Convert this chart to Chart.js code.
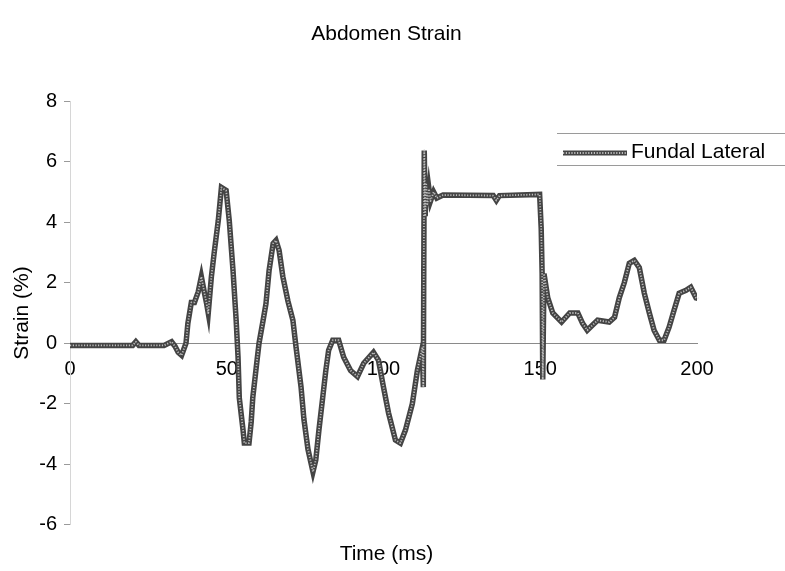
<!DOCTYPE html>
<html>
<head>
<meta charset="utf-8">
<script src="https://cdn.jsdelivr.net/npm/chart.js@4/dist/chart.umd.min.js"></script>
<style>
  html, body { margin: 0; padding: 0; background: #ffffff; }
  #wrap { width: 785px; height: 571px; }
</style>
</head>
<body>
<div id="wrap"><canvas id="c" width="785" height="571"></canvas></div>
<script>
// Abdomen strain trace, fundal lateral gauge
const seriesLabel = 'Fundal Lateral';
const timeMs = [
  0, 10, 20, 21, 22, 30, 32.4, 33.5, 34.5, 35.6, 36.3, 37, 37.6, 38.7, 39.7, 40.9,
  41.9, 42.9, 43.6, 44.1, 45.1, 46, 47.3, 48.3, 49.8, 50.8, 52, 53, 53.6, 54, 55.2,
  55.6, 57.1, 57.8, 58.3, 59.4, 60.3, 61.6, 62.5, 63.5, 64.8, 65.7, 66.7, 67.9,
  69.5, 71.1, 72.1, 73.7, 74.6, 75.9, 77.5, 78.4, 79.4, 80.6, 81.6, 82.5, 83.8,
  85.7, 87.3, 89.5, 91.7, 93.7, 96.8, 98.4, 100, 101.6, 103.8, 105.4, 107, 109.2,
  110.8, 112.4, 112.7, 113.0, 113.3, 113.6, 114, 114.5, 115, 116, 117, 119, 135,
  136, 137, 149.8, 150.3, 150.6, 150.8, 151.2, 152.4, 154, 156.8, 159.4, 162,
  163.5, 165, 166.7, 168.3, 172, 173.7, 175.2, 176.8, 178.4, 180, 181.6, 183.2,
  184.8, 186.3, 188, 189.5, 191.1, 192.7, 194.3, 196.5, 198, 199.7, 200.4
];
const strainPct = [
  -0.07, -0.07, -0.07, 0.05, -0.07, -0.07, 0.05, -0.1, -0.3, -0.4, -0.2, 0, 0.66, 1.35, 1.35, 1.7,
  2.2, 1.65, 1.3, 1.0, 2.2, 3.0, 4.06, 5.15, 5.05, 4.06, 2.4, 0.76, -0.46, -1.8, -2.87,
  -3.3, -3.3, -2.6, -1.8, -0.8, 0, 0.76, 1.3, 2.4, 3.3, 3.4, 3.07, 2.2,
  1.4, 0.76, -0.13, -1.45, -2.5, -3.5, -4.25, -3.86, -2.87, -1.8, -0.9, -0.23, 0.1,
  0.1, -0.46, -0.9, -1.1, -0.66, -0.3, -0.56, -1.45, -2.3, -3.2, -3.3, -2.87, -2.0,
  -0.9, -0.13, -1.45, 6.37, 4.2, 5.3, 4.6, 5.1, 4.7, 5.0, 4.8, 4.9, 4.88,
  4.72, 4.88, 4.92, 3.8, 2.3, -1.2, 2.3, 1.5, 1.0, 0.7, 1.0, 1.0,
  0.66, 0.43, 0.6, 0.76, 0.7, 0.86, 1.5, 2.0, 2.64, 2.74, 2.5, 1.65,
  1.0, 0.43, 0.1, 0.1, 0.53, 1.1, 1.65, 1.75, 1.85, 1.5, 1.48
];
const yTicks = [-6, -4, -2, 0, 2, 4, 6, 8];
const xTicks = [0, 50, 100, 150, 200];

const points = timeMs.map((t, i) => ({ x: t, y: strainPct[i] }));
const FONT = 'Liberation Sans, Arial, sans-serif';

// Lighter core stroked over the thick trace, giving the beaded look
const beadedLine = {
  id: 'beadedLine',
  afterDatasetDraw(chart, args) {
    const pts = args.meta.data;
    if (!pts.length) return;
    const ctx = chart.ctx;
    ctx.save();
    ctx.beginPath();
    ctx.moveTo(pts[0].x, pts[0].y);
    for (let i = 1; i < pts.length; i++) ctx.lineTo(pts[i].x, pts[i].y);
    ctx.strokeStyle = '#bdbdbd';
    ctx.lineWidth = 1.8;
    ctx.setLineDash([1.2, 1.6]);
    ctx.lineJoin = 'round';
    ctx.stroke();
    ctx.restore();
  }
};

// Legend box at upper right with top and bottom rules
const legendBox = {
  id: 'legendBox',
  afterDraw(chart) {
    const ctx = chart.ctx;
    const label = chart.data.datasets[0].label;
    ctx.save();
    ctx.strokeStyle = '#9a9a9a';
    ctx.lineWidth = 1;
    ctx.beginPath();
    ctx.moveTo(557, 133.5); ctx.lineTo(785, 133.5);
    ctx.moveTo(557, 165.5); ctx.lineTo(785, 165.5);
    ctx.stroke();
    ctx.beginPath();
    ctx.moveTo(563, 153); ctx.lineTo(627, 153);
    ctx.strokeStyle = '#444444';
    ctx.lineWidth = 5;
    ctx.stroke();
    ctx.beginPath();
    ctx.moveTo(563, 153); ctx.lineTo(627, 153);
    ctx.strokeStyle = '#bdbdbd';
    ctx.lineWidth = 1.8;
    ctx.setLineDash([1.2, 1.6]);
    ctx.stroke();
    ctx.setLineDash([]);
    ctx.fillStyle = '#000';
    ctx.font = '21px ' + FONT;
    ctx.textBaseline = 'middle';
    ctx.textAlign = 'left';
    ctx.fillText(label, 631, 152);
    ctx.restore();
  }
};

new Chart(document.getElementById('c'), {
  type: 'line',
  data: {
    datasets: [{
      label: seriesLabel,
      data: points,
      borderColor: '#444444',
      borderWidth: 5.5,
      pointRadius: 0,
      tension: 0,
      fill: false
    }]
  },
  options: {
    responsive: false,
    animation: false,
    devicePixelRatio: 1,
    layout: { padding: { left: 0, right: 12, top: 0, bottom: 0 } },
    plugins: {
      legend: { display: false },
      tooltip: { enabled: false },
      title: {
        display: true,
        text: 'Abdomen Strain',
        color: '#000',
        font: { family: FONT, size: 21, weight: 'normal' },
        padding: { top: 22, bottom: 54 }
      },
      subtitle: {
        display: true,
        position: 'bottom',
        text: 'Time (ms)',
        color: '#000',
        font: { family: FONT, size: 21, weight: 'normal' },
        padding: { top: 17, bottom: 4 }
      }
    },
    scales: {
      x: {
        type: 'linear',
        position: { y: 0 },
        min: 0,
        max: 200,
        afterBuildTicks(scale) { scale.ticks = xTicks.map(v => ({ value: v })); },
        ticks: {
          color: '#000',
          font: { family: FONT, size: 20 },
          padding: 14,
          maxRotation: 0
        },
        grid: { display: true, drawOnChartArea: false, drawTicks: false },
        border: { display: true, color: '#8a8a8a', width: 1 }
      },
      y: {
        type: 'linear',
        min: -6,
        max: 8,
        afterBuildTicks(scale) { scale.ticks = yTicks.map(v => ({ value: v })); },
        afterFit(scale) { scale.width = 70; },
        ticks: {
          color: '#000',
          font: { family: FONT, size: 20 },
          padding: 7
        },
        grid: { display: true, drawOnChartArea: false, drawTicks: true, tickLength: 6, color: '#9a9a9a' },
        border: { display: true, color: '#d6d6d6', dash: [1, 4] },
        title: {
          display: true,
          text: 'Strain (%)',
          color: '#000',
          font: { family: FONT, size: 21, weight: 'normal' },
          padding: { top: 10, bottom: 0 }
        }
      },
      // blank margin on the right that holds the legend
      yRight: {
        type: 'linear',
        position: 'right',
        min: -6,
        max: 8,
        afterFit(scale) { scale.width = 76; },
        ticks: { display: false },
        grid: { display: false },
        border: { display: false }
      }
    }
  },
  plugins: [beadedLine, legendBox]
});
</script>
</body>
</html>
